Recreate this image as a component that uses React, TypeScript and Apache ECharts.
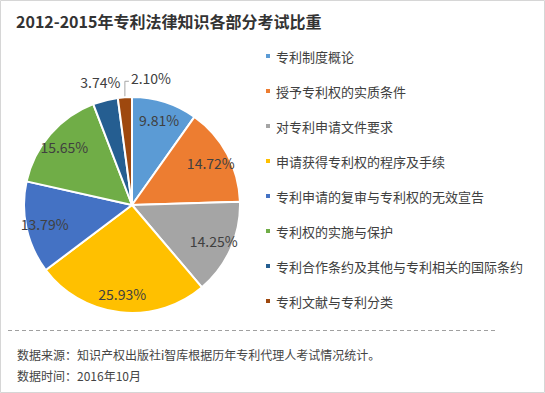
import React, { useEffect, useRef } from "react";
import * as echarts from "echarts";

const titleText = "2012-2015年专利法律知识各部分考试比重";
const categories = [
  "专利制度概论",
  "授予专利权的实质条件",
  "对专利申请文件要求",
  "申请获得专利权的程序及手续",
  "专利申请的复审与专利权的无效宣告",
  "专利权的实施与保护",
  "专利合作条约及其他与专利相关的国际条约",
  "专利文献与专利分类",
];
const values = [9.81, 14.72, 14.25, 25.93, 13.79, 15.65, 3.74, 2.1];
const colors = ["#5B9BD5", "#ED7D31", "#A5A5A5", "#FFC000", "#4472C4", "#70AD47", "#255E91", "#9E480E"];
const footerLines = ["数据来源：知识产权出版社i智库根据历年专利代理人考试情况统计。", "数据时间：2016年10月"];
const outsideIdx = [6, 7];

const FONT = "'Noto Sans CJK SC', 'Noto Sans', sans-serif";

export default function App() {
  const ref = useRef<HTMLDivElement>(null);
  useEffect(() => {
    if (!ref.current) return;
    const chart = echarts.init(ref.current, undefined, { renderer: "svg" });
    const R = 108;
    const center = [132, 205];
    const mainData = categories.map((name, i) => ({ name, value: values[i], itemStyle: { color: colors[i] } }));
    const labelData = categories.map((name, i) => {
      const outside = outsideIdx.includes(i);
      return {
        name,
        value: values[i],
        label: outside ? { position: "outside" } : { position: "inside" },
        labelLine: outside ? { show: i === 7, length: 16, length2: 4 } : { show: false },
      };
    });
    chart.setOption({
      animation: false,
      backgroundColor: "#ffffff",
      graphic: [
        {
          type: "rect",
          shape: { x: 0.5, y: 0.5, width: 544, height: 392 },
          style: { fill: "none", stroke: "#d6d6d6", lineWidth: 1 },
          z: 0,
        },
        {
          type: "text",
          x: 16,
          y: 13,
          style: { text: titleText, font: `bold 16px ${FONT}`, fill: "#333333" },
        },
        {
          type: "line",
          shape: { x1: 8, y1: 330.5, x2: 497, y2: 330.5 },
          style: { stroke: "#a0a0a0", lineWidth: 1, lineDash: [4, 3] },
        },
        {
          type: "text",
          x: 17,
          y: 348,
          style: { text: footerLines[0], font: `12px ${FONT}`, fill: "#444444" },
        },
        {
          type: "text",
          x: 17,
          y: 369,
          style: { text: footerLines[1], font: `12px ${FONT}`, fill: "#444444" },
        },
      ],
      legend: {
        orient: "vertical",
        left: 259,
        top: 43,
        icon: "rect",
        itemWidth: 6,
        itemHeight: 6,
        itemGap: 19,
        selectedMode: false,
        data: categories,
        textStyle: { fontFamily: FONT, fontSize: 13, color: "#404040", lineHeight: 16, padding: [0, 0, 0, 0] },
      },
      series: [
        {
          type: "pie",
          center,
          radius: [0, R],
          startAngle: 90,
          clockwise: true,
          avoidLabelOverlap: false,
          label: { show: false },
          labelLine: { show: false },
          itemStyle: { borderColor: "#ffffff", borderWidth: 2 },
          emphasis: { disabled: true },
          data: mainData,
        },
        {
          type: "pie",
          center,
          radius: [R * 0.6, R],
          startAngle: 90,
          clockwise: true,
          avoidLabelOverlap: false,
          silent: true,
          itemStyle: { color: "rgba(0,0,0,0)" },
          emphasis: { disabled: true },
          label: {
            show: true,
            fontFamily: FONT,
            fontSize: 14,
            color: "#404040",
            formatter: (p: any) => `${p.value.toFixed(2)}%`,
          },
          labelLine: { lineStyle: { color: "#a6a6a6", width: 1 } },
          labelLayout: (p: any) => {
            if (p.dataIndex === 7 && p.labelLinePoints) {
              const [p0, p1, p2] = p.labelLinePoints;
              const np1 = [p0[0], p1[1]];
              const np2 = [np1[0] + Math.abs(p2[0] - p1[0]), p1[1]];
              return {
                x: np2[0] + 2,
                y: np2[1] - 3,
                align: "left",
                verticalAlign: "middle",
                labelLinePoints: [p0, np1, np2],
              };
            }
            if (p.dataIndex === 6 && p.labelLinePoints) {
              const p0 = p.labelLinePoints[0];
              return { x: p0[0] - 5, y: p0[1] - 18, align: "center", verticalAlign: "middle" };
            }
            return {};
          },
          data: labelData,
        },
      ],
    });
    return () => chart.dispose();
  }, []);
  return <div ref={ref} style={{ position: "fixed", left: 0, top: 0, width: 545, height: 393 }} />;
}
